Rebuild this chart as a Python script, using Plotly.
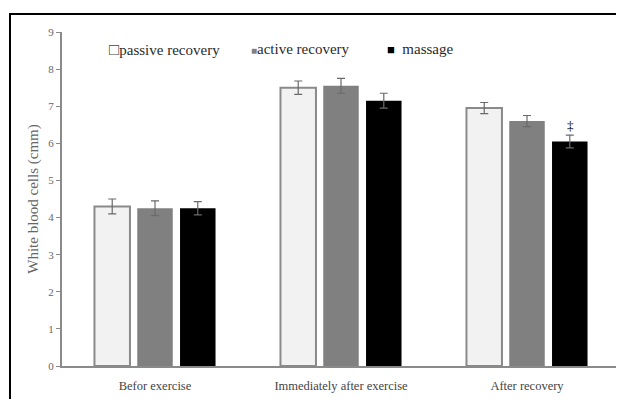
import plotly.graph_objects as go

categories = ["Befor exercise", "Immediately after exercise", "After recovery"]
passive = [4.3, 7.5, 6.95]
active = [4.25, 7.55, 6.6]
massage = [4.25, 7.15, 6.05]
passive_err = [0.2, 0.18, 0.15]
active_err = [0.2, 0.2, 0.15]
massage_err = [0.18, 0.2, 0.17]
yticks = [0, 1, 2, 3, 4, 5, 6, 7, 8, 9]

FONT = "Liberation Serif"
fig = go.Figure()
series = [
    ("passive recovery", passive, passive_err, "#f2f2f2", "#8a8a8a", 2),
    ("active recovery", active, active_err, "#808080", "#808080", 0),
    ("massage", massage, massage_err, "#000000", "#000000", 0),
]
for name, vals, errs, fill, line, lw in series:
    fig.add_trace(go.Bar(
        x=categories, y=vals, name=name, showlegend=False,
        marker=dict(color=fill, line=dict(color=line, width=lw)),
        error_y=dict(type="data", array=errs, color="#6a6a6a", thickness=1.2, width=4),
    ))

# legend drawn as text entries (compact symbol + label like the original)
legend_items = [
    ('<span style="color:#444;font-size:17px">□</span>passive recovery', 0.080),
    ('<span style="color:#808080;font-size:10px">■</span>active recovery', 0.335),
    ('<span style="color:#000;font-size:13px">■</span>  massage', 0.579),
]
for txt, xp in legend_items:
    fig.add_annotation(xref="paper", yref="paper", x=xp, y=0.949, text=txt,
                       showarrow=False, xanchor="left", yanchor="middle",
                       font=dict(family=FONT, size=15, color="#2a2a2a"))

# significance marker above the massage bar
fig.add_annotation(x=categories[2], y=massage[2] + massage_err[2], xshift=43,
                   text="‡", showarrow=False, yanchor="bottom",
                   font=dict(family=FONT, size=13, color="#000000"))

# outer frame
fig.add_shape(type="rect", xref="paper", yref="paper",
              x0=-0.0932, x1=1.02, y0=-0.12, y1=1.054,
              line=dict(color="black", width=2), fillcolor="rgba(0,0,0,0)", layer="below")

fig.update_layout(
    width=616, height=391,
    margin=dict(l=54, r=4, t=24, b=33, autoexpand=False),
    paper_bgcolor="white", plot_bgcolor="white",
    barmode="group", bargap=0.31, bargroupgap=0.17,
    font=dict(family=FONT, color="#555"),
    showlegend=False,
    xaxis=dict(showline=True, linecolor="#8a8a8a", linewidth=2, ticks="outside",
               ticklen=7, tickcolor="rgba(0,0,0,0)", automargin=False,
               tickfont=dict(family=FONT, size=12.5, color="#444"), showgrid=False),
    yaxis=dict(range=[0, 9], tickvals=yticks, showline=True, linecolor="#8a8a8a",
               linewidth=2, ticks="outside", ticklen=4, tickcolor="#8a8a8a", automargin=False,
               tickfont=dict(family=FONT, size=11, color="#666"), showgrid=False,
               zeroline=False,
               title=dict(text="White blood cells (cmm)", standoff=6,
                          font=dict(family=FONT, size=15, color="#666"))),
)
fig.write_html("out.html")
